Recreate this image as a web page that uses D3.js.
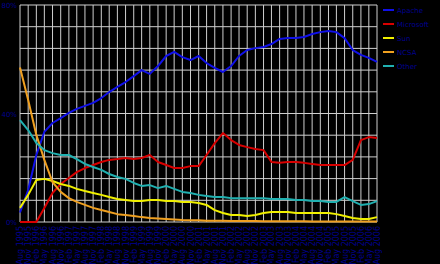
<!DOCTYPE html>
<html><head><meta charset="utf-8">
<script src="https://cdn.jsdelivr.net/npm/d3@7"></script>
<style>
  body { margin: 0; background: #000; }
  svg { display: block; }
  text { font-family: "DejaVu Sans", sans-serif; }
</style>
</head><body>
<svg id="chart" width="440" height="264"></svg>
<script>
// web server share, quarterly samples
const dates = ["1995-08","1995-11","1996-02","1996-05","1996-08","1996-11","1997-02","1997-05",
  "1997-08","1997-11","1998-02","1998-05","1998-08","1998-11","1999-02","1999-05","1999-08",
  "1999-11","2000-02","2000-05","2000-08","2000-11","2001-02","2001-05","2001-08","2001-11",
  "2002-02","2002-05","2002-08","2002-11","2003-02","2003-05","2003-08","2003-11","2004-02",
  "2004-05","2004-08","2004-11","2005-02","2005-05","2005-08","2005-11","2006-02","2006-05","2006-08"];

const apache = [3.5,11.8,24.7,33.2,36.5,38.3,40.2,41.7,42.8,43.9,45.7,47.9,49.8,51.6,53.8,56.0,
  54.6,57.5,61.2,62.7,60.8,59.7,61.2,58.6,56.8,55.3,57.5,61.2,63.4,64.1,64.5,65.6,67.5,67.8,
  67.8,68.2,69.3,70.0,70.4,70.0,67.8,63.4,61.6,60.5,59.0];
const microsoft = [0,0,0,5.2,10.7,14.0,16.2,18.4,19.9,21.0,22.1,22.9,23.2,23.6,23.2,23.6,24.7,
  22.1,21.0,19.9,19.9,20.6,20.6,24.7,29.1,32.8,30.2,28.4,27.6,26.9,26.5,22.1,21.8,22.1,22.1,
  21.8,21.4,21.0,21.0,21.0,21.0,22.9,30.2,31.3,31.0];
const sun = [5.2,10.0,15.5,15.9,15.1,14.0,13.3,12.2,11.4,10.7,10.0,9.2,8.5,8.1,7.7,7.7,8.1,8.1,
  7.7,7.7,7.4,7.4,7.0,6.3,4.4,3.3,2.6,2.6,2.2,2.6,3.3,3.7,3.7,3.7,3.3,3.3,3.3,3.3,3.3,2.9,2.2,
  1.5,1.1,1.1,1.8];
const ncsa = [57.0,45.0,32.1,22.9,14.7,11.1,8.8,7.4,6.3,5.2,4.4,3.7,2.9,2.6,2.2,1.8,1.5,1.3,1.1,
  0.9,0.7,0.6,0.6,0.5,0.5,0.5,0.4,0.4,0.4,0.4,0.3,0.3,0.3,0.3,0.3,0.3,0.2,0.2,0.2,0.2,0.2,0.2,
  0.2,0.2,0.2];
const other = [37.6,33.9,29.1,26.5,25.4,24.7,24.7,23.2,21.4,20.3,19.2,17.7,16.6,15.9,14.4,13.3,
  13.6,12.5,13.3,12.2,11.1,10.7,10.0,9.6,9.2,9.2,8.8,8.8,8.8,8.8,8.8,8.5,8.5,8.5,8.1,8.1,7.7,
  7.7,7.4,7.4,9.2,7.7,6.3,6.6,7.7];

const seriesNames = ["Apache", "Microsoft", "Sun", "NCSA", "Other"];
const seriesValues = [apache, microsoft, sun, ncsa, other];
const seriesColors = ["#1010e8", "#d80000", "#f0f000", "#f0a020", "#20b0b0"];
const yTicks = [0, 40, 80];

const W = 440, H = 264;
const m = {left: 20, right: 63, top: 5, bottom: 42};
const svg = d3.select("#chart");
const parse = d3.timeParse("%Y-%m");
const when = dates.map(parse);

const x = d3.scaleTime().domain(d3.extent(when)).range([m.left, W - m.right]);
const y = d3.scaleLinear().domain([0, 80]).range([H - m.bottom, m.top]);

// grid
svg.append("g").selectAll("line").data(when).join("line")
  .attr("x1", d => x(d)).attr("x2", d => x(d))
  .attr("y1", m.top).attr("y2", H - m.bottom)
  .attr("stroke", "#cfcfcf").attr("stroke-width", 1);
svg.append("g").selectAll("line").data(d3.range(0, 81, 8)).join("line")
  .attr("x1", m.left).attr("x2", W - m.right)
  .attr("y1", d => y(d)).attr("y2", d => y(d))
  .attr("stroke", "#cfcfcf").attr("stroke-width", 1);

// y labels
svg.append("g").selectAll("text").data(yTicks).join("text")
  .attr("x", m.left - 3).attr("y", d => y(d) + 3)
  .attr("text-anchor", "end").attr("font-size", 7).attr("fill", "#000090")
  .text(d => d + "%");

// x labels, rotated
const fmt = d3.timeFormat("%b %Y");
svg.append("g").selectAll("text").data(when).join("text")
  .attr("transform", d => `translate(${x(d) + 3},${H - m.bottom + 4}) rotate(-90)`)
  .attr("text-anchor", "end").attr("font-size", 8).attr("fill", "#000090")
  .text(d => fmt(d));

// lines
const line = d3.line().x((d, i) => x(when[i])).y(d => y(d));
svg.append("g").selectAll("path").data(seriesValues).join("path")
  .attr("d", line).attr("fill", "none")
  .attr("stroke", (d, i) => seriesColors[i]).attr("stroke-width", 2)
  .attr("stroke-linejoin", "round");

// legend
const lg = svg.append("g").attr("transform", `translate(${W - m.right + 6},10)`);
const row = lg.selectAll("g").data(seriesNames).join("g")
  .attr("transform", (d, i) => `translate(0,${i * 14})`);
row.append("line").attr("x1", 0).attr("x2", 11)
  .attr("stroke", (d, i) => seriesColors[i]).attr("stroke-width", 2);
row.append("text").attr("x", 14).attr("y", 2.5).attr("font-size", 7)
  .attr("fill", "#000090").text(d => d);
</script>
</body></html>
